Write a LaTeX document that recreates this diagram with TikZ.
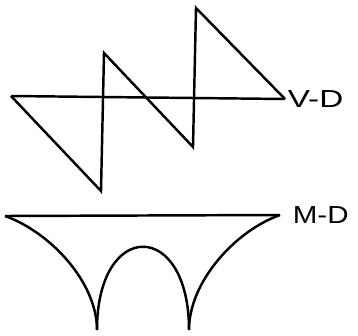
\documentclass[tikz,border=0pt]{standalone}
\usepackage{fontspec}
\setsansfont{Liberation Sans}
\usetikzlibrary{positioning}

\begin{document}
\begin{tikzpicture}[x=0.03cm, y=-0.03cm]
\newdimen\th
\th=2.1pt

\useasboundingbox (0,0) rectangle (358,336);

% shear force diagram
\coordinate (vl) at (11,96);
\coordinate (vr) at (285,99);
\coordinate (va) at (101,191);
\coordinate (vb) at (104,53);
\coordinate (vc) at (193,147);
\coordinate (vd) at (196,8);
\draw[line width=\th, line join=miter] (vl) -- (vr); % base line
\draw[line width=\th, line join=miter] (vl) -- (va) -- (vb) -- (vc) -- (vd) -- (vr); % saw teeth

% bending moment diagram
\coordinate (ml) at (5,216);
\coordinate (mr) at (280,215);
\coordinate (mp) at (97,330);
\coordinate (mq) at (189,330);
\draw[line width=\th] (ml) -- (mr); % base line
\draw[line width=\th] (ml) .. controls (50,232) and (97,282) .. (mp); % left hog
\draw[line width=\th] (mp) .. controls (97,219) and (189,219) .. (mq); % middle arch
\draw[line width=\th] (mq) .. controls (189,282) and (235,231) .. (mr); % right hog

\node[right=0.08cm of {vr}, font=\sffamily\fontsize{21}{24}\selectfont, inner sep=0pt] (vlabel) {\scalebox{1.35}[1]{V-D}};
\node[right=0.38cm of {mr}, font=\sffamily\fontsize{21}{24}\selectfont, inner sep=0pt] (mlabel) {\scalebox{1.2}[1]{M-D}};
\end{tikzpicture}
\end{document}
